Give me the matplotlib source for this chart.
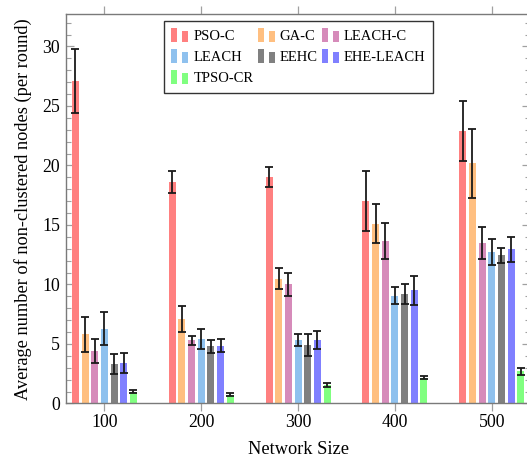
import matplotlib
matplotlib.use("Agg")
import matplotlib.pyplot as plt
import numpy as np
from matplotlib.patches import Patch, Rectangle
from matplotlib.legend_handler import HandlerBase
from matplotlib.ticker import MultipleLocator

network_sizes = [100, 200, 300, 400, 500]
methods = ["PSO-C", "GA-C", "LEACH-C", "LEACH", "EEHC", "EHE-LEACH", "TPSO-CR"]
colors = ["#ff8080", "#ffbf80", "#d68bba", "#8fc1ee", "#808080", "#8080ff", "#80ff80"]

pso_c = [27.1, 18.6, 19.0, 17.0, 22.9]
ga_c = [5.8, 7.1, 10.5, 15.1, 20.2]
leach_c = [4.4, 5.3, 10.0, 13.65, 13.5]
leach = [6.3, 5.4, 5.3, 9.05, 12.75]
eehc = [3.3, 4.8, 4.9, 9.2, 12.45]
ehe_leach = [3.4, 4.85, 5.3, 9.5, 12.95]
tpso_cr = [1.0, 0.75, 1.55, 2.17, 2.7]

pso_c_err = [2.7, 0.95, 0.85, 2.5, 2.5]
ga_c_err = [1.5, 1.1, 0.85, 1.65, 2.9]
leach_c_err = [1.0, 0.35, 1.0, 1.55, 1.35]
leach_err = [1.35, 0.85, 0.5, 0.7, 1.1]
eehc_err = [0.85, 0.55, 0.9, 0.8, 0.65]
ehe_leach_err = [0.85, 0.55, 0.75, 1.2, 1.05]
tpso_cr_err = [0.1, 0.1, 0.15, 0.1, 0.3]

values = [pso_c, ga_c, leach_c, leach, eehc, ehe_leach, tpso_cr]
errors = [pso_c_err, ga_c_err, leach_c_err, leach_err, eehc_err, ehe_leach_err, tpso_cr_err]

plt.rcParams['font.family'] = ['Liberation Serif', 'DejaVu Serif']


class TwoBarHandler(HandlerBase):
    """pgfplots-style ybar legend glyph: two bars, the second one shorter."""
    def create_artists(self, legend, orig_handle, xdescent, ydescent, width,
                       height, fontsize, trans):
        c = orig_handle.get_facecolor()
        bw = width * 0.35
        r1 = Rectangle((-xdescent, -ydescent), bw, height, facecolor=c,
                       edgecolor='none', transform=trans)
        r2 = Rectangle((-xdescent + width - bw, -ydescent), bw, height * 0.78,
                       facecolor=c, edgecolor='none', transform=trans)
        return [r1, r2]


fig = plt.figure(figsize=(5.27, 4.58), dpi=100)
ax = fig.add_axes([0.1247, 0.119, 0.8818, 0.8498])

offsets = [-30, -20, -10, 0, 10, 20, 30]
x = np.array(network_sizes, dtype=float)
bar_w = 7.2
for m, c, v, e, off in zip(methods, colors, values, errors, offsets):
    ax.bar(x + off, v, width=bar_w, color=c, edgecolor='none', zorder=2)
    ax.errorbar(x + off, v, yerr=e, fmt='none', ecolor='#1a1a1a', elinewidth=1.3,
                capsize=2.6, capthick=1.3, zorder=3)

ax.set_xlim(60, 540)
ax.set_ylim(0, 32.7)
ax.set_xticks(network_sizes)
ax.set_xticklabels([str(s) for s in network_sizes])
ax.yaxis.set_major_locator(MultipleLocator(5))
ax.yaxis.set_minor_locator(MultipleLocator(1))

for s in ax.spines.values():
    s.set_color('#7a7a7a')
    s.set_linewidth(1.0)

ax.tick_params(axis='x', which='major', direction='out', length=6, width=0.9,
               color='#a0a0a0', top=True, bottom=True, labelsize=12.8, pad=1.5)
ax.tick_params(axis='y', which='major', direction='in', length=6, width=0.9,
               color='#a0a0a0', left=True, right=True, labelsize=12.8, pad=4)
ax.tick_params(axis='y', which='minor', direction='in', length=3.5, width=0.8,
               color='#a0a0a0', left=True, right=True)
ax.tick_params(axis='x', which='minor', bottom=False, top=False)

ax.set_xlabel("Network Size", fontsize=13.2, labelpad=7.5)
ax.set_ylabel("Average number of non-clustered nodes (per round)", fontsize=13.2, labelpad=7)

handles = {m: Patch(facecolor=c) for m, c in zip(methods, colors)}
order = ["PSO-C", "LEACH", "TPSO-CR", "GA-C", "EEHC", "LEACH-C", "EHE-LEACH"]
leg = ax.legend([handles[m] for m in order], order, ncol=3,
                handler_map={Patch: TwoBarHandler()},
                loc='upper left', bbox_to_anchor=(0.2115, 0.983), borderaxespad=0,
                fontsize=10.5, handlelength=1.17, handleheight=1.1,
                handletextpad=0.34, columnspacing=0.3, labelspacing=0.42,
                borderpad=0.5, fancybox=False, framealpha=1,
                edgecolor='#333333')
leg.get_frame().set_linewidth(1.0)

fig.savefig("out.png", dpi=100)
